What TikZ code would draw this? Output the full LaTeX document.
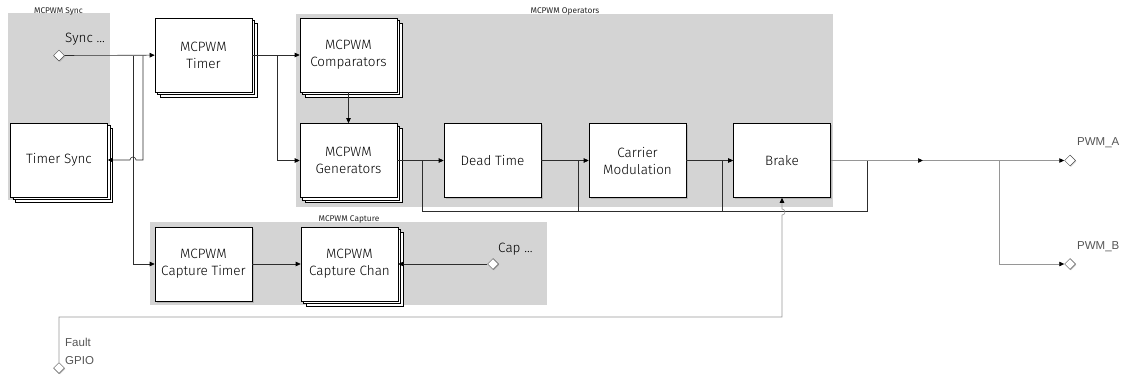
\documentclass[tikz,border=0pt]{standalone}
\usepackage{fontspec}
\setmainfont{Fira Sans Light}
\newfontfamily\lblfont{Liberation Sans}
\newfontfamily\grpfont{Fira Sans}
\usetikzlibrary{arrows.meta,shapes.geometric,shadows}
\definecolor{grpfill}{RGB}{212,212,212}
\definecolor{wiredark}{RGB}{45,45,45}
\definecolor{wirelight}{RGB}{150,150,150}
\definecolor{lbltext}{RGB}{85,85,85}
\tikzset{
  tip/.tip={Triangle[length=5pt,width=4.5pt,color=black,fill=black]},
  blk/.style={draw=black, line width=0.6pt, fill=white, minimum width=97pt, minimum height=74pt,
    inner sep=2pt, align=center, font=\fontsize{13.5}{17}\selectfont,
    drop shadow={shadow xshift=1.5pt,shadow yshift=-1.5pt,opacity=0.35}},
  stk/.style={blk, double copy shadow={shadow xshift=2.5pt,shadow yshift=-2.5pt,draw=black,fill=white}},
  port/.style={diamond, draw=black!70, line width=0.5pt, fill=white, minimum size=11pt, inner sep=0pt,
    drop shadow={shadow xshift=1pt,shadow yshift=-1pt,opacity=0.3}},
  grpbox/.style={fill=grpfill, draw=none},
  grplbl/.style={font=\grpfont\fontsize{8.3}{9}\selectfont, text=black!85},
  txt/.style={font=\fontsize{13.5}{15}\selectfont, inner sep=0pt},
  sig/.style={font=\lblfont\fontsize{11.5}{18}\selectfont, text=lbltext, inner sep=0pt, align=left},
  wire/.style={draw=wiredark, line width=0.6pt},
  arr/.style={wire, -tip},
  lwire/.style={draw=wirelight, line width=0.6pt},
  larr/.style={lwire, -tip},
}
\begin{document}
\begin{tikzpicture}[x=1pt,y=-1pt]
\useasboundingbox (0,0) rectangle (1129,378);
% groups
\fill[grpbox] (8,13) rectangle (110,200);
\fill[grpbox] (296,14) rectangle (833,207);
\fill[grpbox] (150,222) rectangle (547,305);
\node[grplbl] (gsync) at (58.5,11) {MCPWM Sync};
\node[grplbl] (gops) at (565,11) {MCPWM Operators};
\node[grplbl] (gcap) at (349,219) {MCPWM Capture};

% blocks
\node[stk] (tsync) at (59,160) {Timer Sync};
\node[stk] (timer) at (203.5,55) {MCPWM\\Timer};
\node[stk] (comp) at (348.5,55) {MCPWM\\Comparators};
\node[stk] (gen) at (348.5,160.5) {MCPWM\\Generators};
\node[blk] (dead) at (492.5,160.5) {Dead Time};
\node[blk] (carrier) at (637.5,160.5) {Carrier\\Modulation};
\node[blk] (brake) at (782,160.5) {Brake};
\node[blk] (captimer) at (203.5,264) {MCPWM\\Capture Timer};
\node[stk] (capchan) at (349.5,264) {MCPWM\\Capture Chan};

% ports
\node[port] (sync) at (59,55.5) {};
\node[txt, anchor=west] (synclbl) at (65,39) {Sync ...};
\node[port] (cap) at (493,264) {};
\node[txt, anchor=west] (caplbl) at (498,249) {Cap ...};
\node[port] (pwma) at (1070,160.5) {};
\node[sig, anchor=west] (pwmalbl) at (1077,143) {PWM\_A};
\node[port] (pwmb) at (1070,264) {};
\node[sig, anchor=west] (pwmblbl) at (1077,247) {PWM\_B};
\node[port] (fault) at (59,368) {};
\node[sig, anchor=north west] (faultlbl) at (65,338) {Fault\\GPIO};

% junctions
\coordinate (jcap) at (133,55.5);
\coordinate (jts) at (143,55.5);
\coordinate (jgen) at (277,55);
\coordinate (b1) at (422,160.5);
\coordinate (b2) at (578,160.5);
\coordinate (b3) at (722,160.5);
\coordinate (b4) at (867,160.5);
\coordinate (mida) at (923,160.5);
\coordinate (jpwm) at (999,160.5);

% connectors
\draw[arr] (sync) -- (timer);
\draw[arr] (jcap) |- (captimer);
\draw[arr] (jts) -- (143,160) -- (136,160) arc[start angle=0,end angle=180,radius=3pt] -- (tsync.east);
\draw[arr] (timer) -- (comp);
\draw[arr] (jgen) |- (gen);
\draw[arr] (comp) -- (gen);
\draw[arr] (gen) -- (dead);
\draw[arr] (dead) -- (carrier);
\draw[arr] (carrier) -- (brake);
\draw[arr] (captimer) -- (capchan);
\draw[arr] (cap) -- (capchan);
% bypass
\draw[wire] (b1) -- (422,211.5) -- (867,211.5) -- (b4);
\draw[wire] (b2) -- (578,211.5);
\draw[wire] (b3) -- (722,211.5);
% outputs
\draw[larr] (brake) -- (mida);
\draw[larr] (mida) -- (pwma);
\draw[larr] (jpwm) |- (pwmb);
% fault
\draw[larr] (fault) -- (59,317) -- (782,317) -- (782,215)
  arc[start angle=-90,end angle=90,radius=3pt] -- (brake.south);
\end{tikzpicture}
\end{document}
